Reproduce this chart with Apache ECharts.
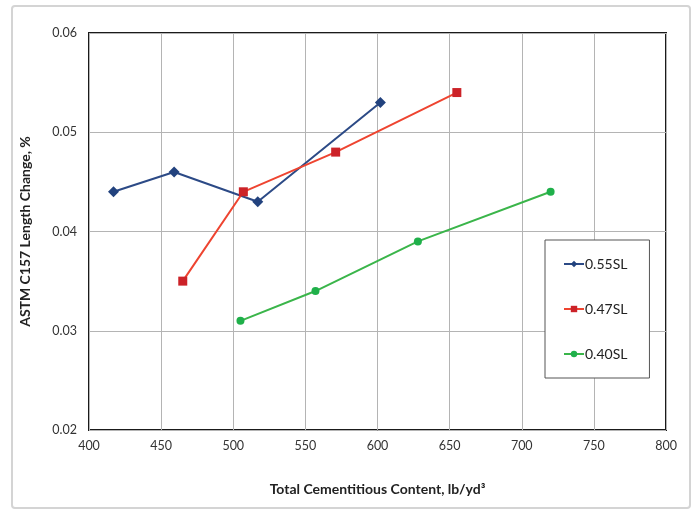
<!DOCTYPE html>
<html><head><meta charset="utf-8">
<script src="https://cdn.jsdelivr.net/npm/echarts@6/dist/echarts.min.js"></script>
<style>html,body{margin:0;padding:0;background:#fff}#c{width:698px;height:514px}</style>
</head><body><div id="c"></div>
<script>
const seriesNames = ['0.55SL', '0.47SL', '0.40SL'];
const x055 = [417, 459, 517, 602];
const y055 = [0.044, 0.046, 0.043, 0.053];
const x047 = [465, 507, 571, 655];
const y047 = [0.035, 0.044, 0.048, 0.054];
const x040 = [505, 557, 628, 720];
const y040 = [0.031, 0.034, 0.039, 0.044];
const xTicks = [400, 450, 500, 550, 600, 650, 700, 750, 800];
const yTicks = [0.02, 0.03, 0.04, 0.05, 0.06];

const pair = (xs, ys) => xs.map((x, i) => [x, ys[i]]);
const chart = echarts.init(document.getElementById('c'));
const font = 'Lato, "Open Sans", sans-serif';
chart.setOption({
  animation: false,
  backgroundColor: '#fff',
  graphic: [{type: 'rect', shape: {x: 12, y: 6, width: 678, height: 502, r: 3}, style: {fill: 'none', stroke: '#d4d4d4', lineWidth: 2}}],
  grid: {left: 89, right: 32, top: 33, bottom: 84, show: true, borderColor: '#1a1a1a', borderWidth: 2, backgroundColor: 'transparent'},
  legend: {
    orient: 'vertical', left: 545, top: 240, width: 80, height: 104,
    padding: [17, 22, 17, 18], itemGap: 31,
    backgroundColor: '#fff', borderColor: '#555', borderWidth: 1,
    itemWidth: 20, itemHeight: 8,
    textStyle: {fontFamily: font, fontSize: 14, color: '#222', padding: [0,0,0,-4]},
    data: seriesNames
  },
  xAxis: {
    type: 'value', min: xTicks[0], max: xTicks[xTicks.length-1], interval: 50,
    name: 'Total Cementitious Content, lb/yd³', nameLocation: 'middle', nameGap: 52,
    nameTextStyle: {fontFamily: font, fontSize: 14, fontWeight: 'bold', color: '#222'},
    axisLine: {show: false}, axisTick: {show: false},
    axisLabel: {fontFamily: font, fontSize: 12.5, color: '#333', margin: 9},
    splitLine: {lineStyle: {color: '#b4b4b4', width: 1}}
  },
  yAxis: {
    type: 'value', min: yTicks[0], max: yTicks[yTicks.length-1], interval: 0.01,
    name: 'ASTM C157 Length Change, %', nameLocation: 'middle', nameGap: 57,
    nameTextStyle: {fontFamily: font, fontSize: 14, fontWeight: 'bold', color: '#222'},
    axisLine: {show: false}, axisTick: {show: false},
    axisLabel: {fontFamily: font, fontSize: 12.5, color: '#333', margin: 12, formatter: v => v.toFixed(2)},
    splitLine: {lineStyle: {color: '#b4b4b4', width: 1}}
  },
  series: [
    {name: seriesNames[0], type: 'line', data: pair(x055, y055), symbol: 'diamond', symbolSize: 11,
     lineStyle: {color: '#2c4a86', width: 2}, itemStyle: {color: '#22427e'}},
    {name: seriesNames[1], type: 'line', data: pair(x047, y047), symbol: 'rect', symbolSize: 9,
     lineStyle: {color: '#ee4430', width: 2}, itemStyle: {color: '#cc2228'}},
    {name: seriesNames[2], type: 'line', data: pair(x040, y040), symbol: 'circle', symbolSize: 8,
     lineStyle: {color: '#3ab54a', width: 2}, itemStyle: {color: '#1fb04a'}}
  ]
});
</script></body></html>
